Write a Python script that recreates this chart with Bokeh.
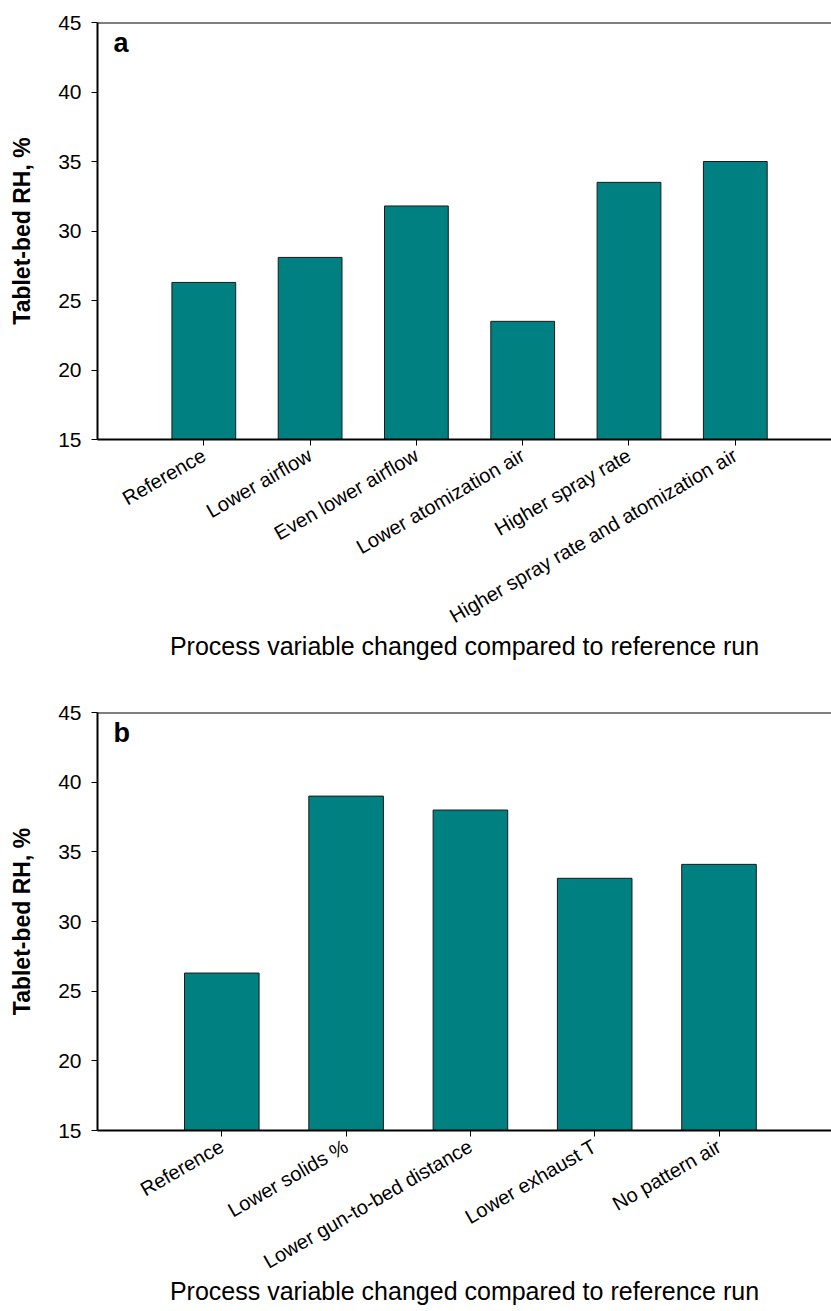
import math
from bokeh.plotting import figure
from bokeh.layouts import column
from bokeh.models import Range1d, FixedTicker, Span, Label, ColumnDataSource
from bokeh.embed import file_html
from bokeh.resources import INLINE

cats_a = ["Reference", "Lower airflow", "Even lower airflow", "Lower atomization air",
          "Higher spray rate", "Higher spray rate and atomization air"]
vals_a = [26.3, 28.1, 31.8, 23.5, 33.5, 35.0]

cats_b = ["Reference", "Lower solids %", "Lower gun-to-bed distance", "Lower exhaust T", "No pattern air"]
vals_b = [26.3, 39.0, 38.0, 33.1, 34.1]

y_ticks = [15, 20, 25, 30, 35, 40, 45]
y_label = "Tablet-bed RH, %"
x_label = "Process variable changed compared to reference run"

FONT = "Liberation Sans"
TEAL = "#008080"


def make_panel(cats, vals, letter, x_end, height, border_top, border_bottom):
    p = figure(width=831, height=height, output_backend="svg", toolbar_location=None,
               x_range=Range1d(-1.0, x_end), y_range=Range1d(15, 45),
               min_border_left=97, min_border_right=0,
               min_border_top=border_top, min_border_bottom=border_bottom)
    p.outline_line_color = None
    p.grid.visible = False
    p.background_fill_color = "white"

    xs = list(range(len(cats)))
    src = ColumnDataSource(dict(x=xs, top=vals))
    p.vbar(x="x", top="top", bottom=15, width=0.6, source=src,
           fill_color=TEAL, line_color="#1a1a1a", line_width=1)

    p.add_layout(Span(location=45, dimension="width", line_color="black", line_width=2))

    p.xaxis.ticker = FixedTicker(ticks=xs)
    p.xaxis.major_label_overrides = {i: c for i, c in enumerate(cats)}
    p.xaxis.major_label_orientation = math.pi / 6
    p.xaxis.minor_tick_line_color = None
    p.xaxis.major_tick_in = 0
    p.xaxis.major_tick_out = 6
    p.xaxis.axis_line_width = 2
    p.xaxis.major_label_text_font = FONT
    p.xaxis.major_label_text_font_size = "20px"
    p.xaxis.major_label_text_color = "black"
    p.xaxis.major_label_standoff = 8
    p.xaxis.axis_label = x_label
    p.xaxis.axis_label_text_font = FONT
    p.xaxis.axis_label_text_font_size = "25px"
    p.xaxis.axis_label_text_font_style = "normal"
    p.xaxis.axis_label_text_color = "black"
    p.xaxis.axis_label_standoff = -8

    p.yaxis.ticker = FixedTicker(ticks=y_ticks)
    p.yaxis.minor_tick_line_color = None
    p.yaxis.major_tick_in = 0
    p.yaxis.major_tick_out = 6
    p.yaxis.axis_line_width = 2
    p.yaxis.major_label_text_font = FONT
    p.yaxis.major_label_text_font_size = "21px"
    p.yaxis.major_label_text_color = "black"
    p.yaxis.major_label_standoff = 10
    p.yaxis.axis_label = y_label
    p.yaxis.axis_label_text_font = FONT
    p.yaxis.axis_label_text_font_size = "23px"
    p.yaxis.axis_label_text_font_style = "bold"
    p.yaxis.axis_label_text_color = "black"
    p.yaxis.axis_label_standoff = 20

    p.add_layout(Label(x=16, y=44.6, x_units="screen", y_units="data", text=letter,
                       text_font=FONT, text_font_size="27px", text_font_style="bold",
                       text_baseline="top", text_color="black"))
    return p


pa = make_panel(cats_a, vals_a, "a", 5.905, 690, 22, 251)
pb = make_panel(cats_b, vals_b, "b", 4.905, 621, 22, 181)

layout = column(pa, pb, spacing=0)
open("out.html", "w").write(file_html(layout, INLINE))
